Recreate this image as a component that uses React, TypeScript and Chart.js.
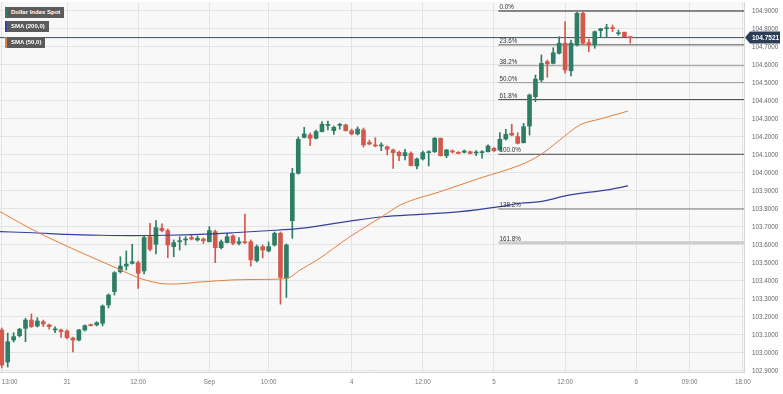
import React, { useEffect, useRef } from 'react';
import { Chart, registerables } from 'chart.js';

Chart.register(...registerables);

const FONT = '"Liberation Sans", Arial, sans-serif';
const GREEN = '#2e7d66';
const RED = '#d2594b';

// hourly candles, first one is index -11 (Aug 30 13:00); index 0 = Aug 31 00:00
const firstIndex = -11;
const opens = [
  103.128, 102.95, 103.072, 103.096, 103.137, 103.183, 103.15, 103.174, 103.156, 103.128, 103.128,
  103.122, 103.083, 103.072, 103.128, 103.157, 103.156, 103.165, 103.267, 103.341, 103.452, 103.483, 103.498,
  103.502, 103.456, 103.646, 103.604, 103.693, 103.68, 103.591, 103.618, 103.628, 103.641, 103.628, 103.633,
  103.618, 103.674, 103.585, 103.613, 103.65, 103.609, 103.618, 103.618, 103.513, 103.591, 103.567, 103.6,
  103.665, 103.415, 103.735, 103.998, 104.198, 104.211, 104.193, 104.23, 104.264, 104.235, 104.264, 104.267,
  104.235, 104.217, 104.239, 104.17, 104.156, 104.15, 104.146, 104.128, 104.115, 104.096, 104.109, 104.039,
  104.078, 104.113, 104.118, 104.193, 104.096, 104.122, 104.115, 104.115, 104.118, 104.111, 104.113, 104.118,
  104.137, 104.128, 104.189, 104.221, 104.202, 104.168, 104.261, 104.424, 104.517, 104.618, 104.609, 104.665,
  104.721, 104.568, 104.711, 104.887, 104.724, 104.711, 104.791, 104.802, 104.806, 104.774, 104.782, 104.754,
];
const highs = [
  103.139, 103.111, 103.113, 103.137, 103.193, 103.217, 103.196, 103.183, 103.161, 103.146, 103.133,
  103.128, 103.089, 103.132, 103.156, 103.161, 103.174, 103.267, 103.328, 103.452, 103.535, 103.567, 103.604,
  103.511, 103.65, 103.72, 103.735, 103.717, 103.689, 103.628, 103.646, 103.646, 103.656, 103.65, 103.639,
  103.702, 103.683, 103.628, 103.665, 103.656, 103.641, 103.772, 103.628, 103.6, 103.6, 103.617, 103.672,
  103.672, 103.606, 104.026, 104.2, 104.254, 104.222, 104.239, 104.285, 104.289, 104.261, 104.276, 104.272,
  104.244, 104.256, 104.25, 104.183, 104.196, 104.168, 104.15, 104.133, 104.122, 104.132, 104.117, 104.083,
  104.122, 104.124, 104.197, 104.194, 104.131, 104.128, 104.119, 104.128, 104.122, 104.124, 104.125, 104.156,
  104.143, 104.224, 104.243, 104.271, 104.224, 104.276, 104.439, 104.544, 104.656, 104.628, 104.696, 104.757,
  104.841, 104.739, 104.893, 104.9, 104.743, 104.789, 104.804, 104.826, 104.822, 104.794, 104.783, 104.757,
];
const lows = [
  102.917, 102.922, 103.061, 103.089, 103.063, 103.142, 103.144, 103.146, 103.132, 103.113, 103.087,
  103.078, 103.006, 103.067, 103.122, 103.15, 103.15, 103.15, 103.25, 103.322, 103.444, 103.461, 103.494,
  103.359, 103.439, 103.567, 103.55, 103.672, 103.53, 103.535, 103.572, 103.6, 103.628, 103.622, 103.609,
  103.617, 103.502, 103.578, 103.611, 103.6, 103.6, 103.608, 103.483, 103.506, 103.528, 103.561, 103.594,
  103.271, 103.309, 103.637, 103.994, 104.194, 104.152, 104.189, 104.228, 104.239, 104.215, 104.243, 104.233,
  104.211, 104.211, 104.144, 104.156, 104.145, 104.124, 104.1, 104.026, 104.068, 104.072, 104.039, 104.022,
  104.072, 104.039, 104.114, 104.094, 104.085, 104.111, 104.106, 104.111, 104.106, 104.096, 104.082, 104.117,
  104.119, 104.122, 104.183, 104.206, 104.161, 104.167, 104.211, 104.396, 104.507, 104.532, 104.606, 104.661,
  104.554, 104.539, 104.706, 104.714, 104.674, 104.693, 104.752, 104.757, 104.785, 104.765, 104.756, 104.721,
];
const closes = [
  102.933, 103.063, 103.091, 103.132, 103.183, 103.146, 103.178, 103.161, 103.146, 103.134, 103.118,
  103.085, 103.072, 103.128, 103.152, 103.152, 103.168, 103.261, 103.322, 103.446, 103.483, 103.494, 103.507,
  103.443, 103.641, 103.576, 103.696, 103.68, 103.6, 103.613, 103.624, 103.633, 103.633, 103.637, 103.624,
  103.68, 103.585, 103.618, 103.646, 103.609, 103.618, 103.613, 103.517, 103.591, 103.572, 103.591, 103.665,
  103.42, 103.6, 103.998, 104.187, 104.217, 104.193, 104.23, 104.271, 104.27, 104.254, 104.27, 104.235,
  104.217, 104.244, 104.156, 104.161, 104.15, 104.156, 104.132, 104.113, 104.096, 104.113, 104.041, 104.078,
  104.113, 104.117, 104.193, 104.096, 104.128, 104.117, 104.109, 104.122, 104.109, 104.115, 104.118, 104.15,
  104.124, 104.187, 104.215, 104.211, 104.165, 104.257, 104.433, 104.522, 104.609, 104.606, 104.668, 104.721,
  104.572, 104.721, 104.887, 104.721, 104.711, 104.785, 104.802, 104.806, 104.802, 104.779, 104.757, 104.7521,
];

const sma200Index = [-11.3, -5.7, 0, 5.6, 11.1, 16.9, 22.4, 28, 33.7, 39.3, 47.7, 53.3, 59.5, 66.3, 73, 76.4, 79.8, 84.8, 91.1, 94.6];
const sma200Value = [103.674, 103.668, 103.659, 103.654, 103.652, 103.654, 103.659, 103.668, 103.679, 103.692, 103.733, 103.757, 103.77, 103.785, 103.813, 103.832, 103.841, 103.878, 103.906, 103.928];

const sma50Index = [-11.3, -4.8, 8.4, 12.3, 15.7, 17.9, 22.4, 28, 33.7, 37.1, 39.3, 42.2, 47.7, 53.3, 56.2, 62.9, 69.6, 76.4, 79.8, 83.1, 86.5, 89.9, 94.6];
const sma50Value = [103.785, 103.668, 103.471, 103.415, 103.387, 103.383, 103.394, 103.406, 103.409, 103.415, 103.461, 103.517, 103.646, 103.761, 103.822, 103.896, 103.971, 104.044, 104.1, 104.183, 104.267, 104.3, 104.344];

const fibLevels = [104.9, 104.712, 104.596, 104.502, 104.408, 104.104, 103.8, 103.612];
const fibLabels = ['0.0%', '23.6%', '38.2%', '50.0%', '61.8%', '100.0%', '138.2%', '161.8%'];
const fibStartIndex = 72.75;
const lastPrice = 104.7521;

const xTickIndex = [-11, 0, 12, 24, 34, 48, 60, 72, 84, 96, 105, 114];
const xTickLabels = ['13:00', '31', '12:00', 'Sep', '10:00', '4', '12:00', '5', '12:00', '6', '09:00', '18:00'];
const yTickValues = [102.9, 103.0, 103.1, 103.2, 103.3, 103.4, 103.5, 103.6, 103.7, 103.8, 103.9, 104.0, 104.1, 104.2, 104.3, 104.4, 104.5, 104.6, 104.7, 104.8, 104.9];

const fibColors = ['#1f1f1f', '#555555', '#9a9a9a', '#9a9a9a', '#4a4a4a', '#4a4a4a', '#7a7a7a', '#cccccc'];
const fibWidths = [1.2, 1, 1, 1, 1, 1, 1, 3];

const xMin = -11.3;
const xMax = 114.17;
const yMin = 102.8944;
const yMax = 104.95;

export default function App() {
  const ref = useRef<HTMLCanvasElement>(null);

  useEffect(() => {
    const canvas = ref.current;
    if (!canvas) return;
    const idx = opens.map((_, k) => firstIndex + k);
    const colorFor = (c: any) => (closes[c.dataIndex] >= opens[c.dataIndex] ? GREEN : RED);

    const deco = {
      id: 'deco',
      beforeDraw(chart: any) {
        const { ctx, chartArea: a } = chart;
        ctx.save();
        ctx.fillStyle = '#f8f8f8';
        ctx.fillRect(a.left, a.top, a.right - a.left, a.bottom - a.top);
        ctx.restore();
      },
      afterDraw(chart: any) {
        const { ctx } = chart;
        const xs = chart.scales.x;
        const ys = chart.scales.y;
        ctx.save();
        ctx.font = `6.3px ${FONT}`;
        ctx.fillStyle = '#333';
        ctx.textBaseline = 'alphabetic';
        ctx.textAlign = 'left';
        fibLevels.forEach((lv, k) => {
          ctx.fillText(fibLabels[k], xs.getPixelForValue(fibStartIndex) + 1, ys.getPixelForValue(lv) - 2);
        });
        const py = ys.getPixelForValue(lastPrice);
        const x0 = chart.chartArea.right + 1;
        ctx.fillStyle = '#2c3e56';
        ctx.beginPath();
        ctx.moveTo(x0, py);
        ctx.lineTo(x0 + 5, py - 6);
        ctx.lineTo(780, py - 6);
        ctx.lineTo(780, py + 6);
        ctx.lineTo(x0 + 5, py + 6);
        ctx.closePath();
        ctx.fill();
        ctx.fillStyle = '#ffffff';
        ctx.font = `bold 6.5px ${FONT}`;
        ctx.textBaseline = 'middle';
        ctx.fillText(lastPrice.toFixed(4), x0 + 7, py + 0.5);
        ctx.restore();
      },
    };

    const fibSets = fibLevels.map((lv, k) => ({
      type: 'line',
      data: [{ x: fibStartIndex, y: lv }, { x: xMax, y: lv }],
      borderColor: fibColors[k],
      borderWidth: fibWidths[k],
      pointRadius: 0,
      order: 20,
    }));

    const chart = new Chart(canvas, {
      type: 'line',
      data: {
        datasets: [
          ...fibSets,
          {
            type: 'line',
            data: [{ x: xMin, y: lastPrice }, { x: xMax, y: lastPrice }],
            borderColor: '#3d4d60',
            borderWidth: 1,
            pointRadius: 0,
            order: 15,
          },
          {
            type: 'bar',
            data: idx.map((x, k) => ({ x, y: [lows[k], highs[k]] })),
            backgroundColor: colorFor,
            barThickness: 1,
            grouped: false,
            minBarLength: 1,
            order: 10,
          },
          {
            type: 'bar',
            data: idx.map((x, k) => ({ x, y: [opens[k], closes[k]] })),
            backgroundColor: colorFor,
            barThickness: 4,
            grouped: false,
            minBarLength: 1,
            order: 9,
          },
          {
            type: 'line',
            data: sma200Index.map((x, k) => ({ x, y: sma200Value[k] })),
            borderColor: '#34429c',
            borderWidth: 1.2,
            pointRadius: 0,
            cubicInterpolationMode: 'monotone',
            order: 2,
          },
          {
            type: 'line',
            data: sma50Index.map((x, k) => ({ x, y: sma50Value[k] })),
            borderColor: '#e2803f',
            borderWidth: 1,
            pointRadius: 0,
            cubicInterpolationMode: 'monotone',
            order: 1,
          },
        ] as any,
      },
      options: {
        animation: false,
        responsive: false,
        maintainAspectRatio: false,
        devicePixelRatio: 1,
        events: [],
        layout: { padding: { top: 2, left: 0, right: 0, bottom: 0 } },
        plugins: { legend: { display: false }, tooltip: { enabled: false } },
        scales: {
          x: {
            type: 'linear',
            min: xMin,
            max: xMax,
            offset: false,
            afterBuildTicks: (s: any) => {
              s.ticks = [...xTickIndex.map((v) => ({ value: v })), { value: xMax }];
            },
            afterFit: (s: any) => {
              s.height = 22;
            },
            ticks: {
              autoSkip: false,
              maxRotation: 0,
              minRotation: 0,
              align: 'inner',
              padding: 0,
              color: '#777',
              font: { family: FONT, size: 6.3 },
              callback: (v: any) => {
                const k = xTickIndex.indexOf(Number(v));
                return k >= 0 ? xTickLabels[k] : '';
              },
            },
            grid: { color: '#e4e4e4', drawTicks: true, tickLength: 6, tickColor: 'rgba(0,0,0,0)', offset: false },
            border: { color: '#d6d6d6' },
          },
          y: {
            type: 'linear',
            position: 'right',
            min: yMin,
            max: yMax,
            afterBuildTicks: (s: any) => {
              s.ticks = yTickValues.map((v) => ({ value: v }));
            },
            afterFit: (s: any) => {
              s.width = 39;
            },
            ticks: {
              padding: 0,
              color: '#666',
              font: { family: FONT, size: 6.3, lineHeight: 0.5 },
              callback: (v: any) => Number(v).toFixed(4),
            },
            grid: { color: '#e4e4e4', drawTicks: true, tickLength: 8, tickColor: 'rgba(0,0,0,0)' },
            border: { color: '#d6d6d6' },
          },
        },
      } as any,
      plugins: [deco],
    } as any);

    return () => chart.destroy();
  }, []);

  const boxBase: React.CSSProperties = {
    position: 'absolute',
    left: 5,
    height: 11,
    lineHeight: '11px',
    background: '#5b5b5b',
    color: '#ffffff',
    fontFamily: FONT,
    fontWeight: 'bold',
    fontSize: '6px',
    padding: '0 4px 0 4px',
    whiteSpace: 'nowrap',
    boxSizing: 'border-box',
  };

  return (
    <div style={{ position: 'fixed', left: 0, top: 0, width: 783, height: 394, background: '#ffffff' }}>
      <canvas ref={ref} width={783} height={394} style={{ width: 783, height: 394, display: 'block' }} />
      <div style={{ ...boxBase, top: 7, height: 11, borderLeft: `2px solid ${GREEN}` }}>Dollar Index Spot</div>
      <div style={{ ...boxBase, top: 21, borderLeft: '2px solid #34429c' }}>SMA (200,0)</div>
      <div style={{ ...boxBase, top: 37, borderLeft: '2px solid #e2803f' }}>SMA (50,0)</div>
    </div>
  );
}
